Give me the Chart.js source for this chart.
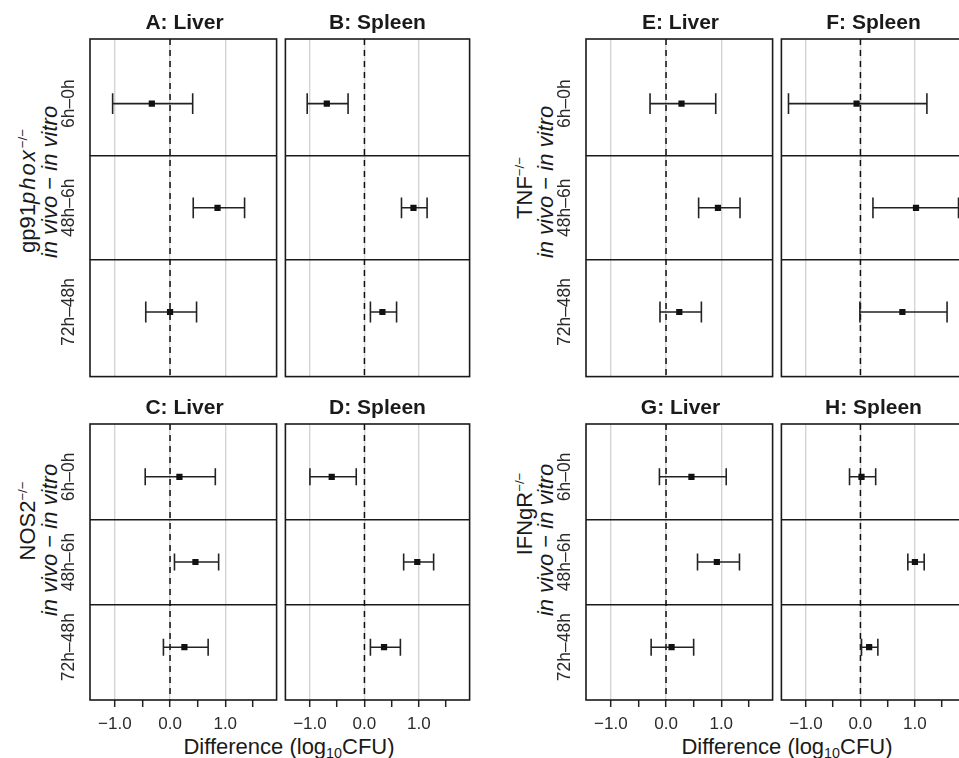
<!DOCTYPE html>
<html>
<head>
<meta charset="utf-8">
<title>in vivo - in vitro differences</title>
<script src="https://cdn.jsdelivr.net/npm/chart.js@4.4.1/dist/chart.umd.min.js"></script>
<style>
  html, body { margin: 0; padding: 0; background: #fff; overflow: hidden; }
  #wrap { position: relative; width: 959px; height: 758px; overflow: hidden;
          font-family: "Liberation Sans", Arial, Helvetica, sans-serif; color: #1a1a1a; }
  #wrap canvas { position: absolute; }
  .ylab { position: absolute; white-space: nowrap; font-size: 22px; line-height: 1;
          transform: translate(-50%, -50%) rotate(-90deg); }
  .xlab { position: absolute; white-space: nowrap; font-size: 22px; line-height: 1;
          transform: translate(-50%, -50%); }
  sup { position: relative; top: -0.6em; font-size: 60%; vertical-align: baseline; }
  sub { position: relative; top: 0.3em; font-size: 65%; vertical-align: baseline; }
</style>
</head>
<body>
<div id="wrap">
  <div class="ylab" style="left:28px; top:191px;">gp91<i style="letter-spacing:2px">phox</i><sup>&minus;/&minus;</sup></div>
  <div class="ylab" style="left:50px; top:182px;"><i>in vivo</i> &minus; <i>in vitro</i></div>
  <div class="ylab" style="left:525px; top:188px;">TNF<sup>&minus;/&minus;</sup></div>
  <div class="ylab" style="left:546px; top:182px;"><i>in vivo</i> &minus; <i>in vitro</i></div>
  <div class="ylab" style="left:28px; top:521px;">NOS2<sup>&minus;/&minus;</sup></div>
  <div class="ylab" style="left:50px; top:540px;"><i>in vivo</i> &minus; <i>in vitro</i></div>
  <div class="ylab" style="left:525px; top:514px;">IFNgR<sup>&minus;/&minus;</sup></div>
  <div class="ylab" style="left:546px; top:540px;"><i>in vivo</i> &minus; <i>in vitro</i></div>
  <div class="xlab" style="left:289px; top:747px;">Difference (log<sub>10</sub>CFU)</div>
  <div class="xlab" style="left:787px; top:747px;">Difference (log<sub>10</sub>CFU)</div>
</div>
<script>
const FONT = '"Liberation Sans", Arial, Helvetica, sans-serif';

// rows and axis
const rowLabels = ['6h\u20130h', '48h\u20136h', '72h\u201348h'];
const xTicks = [-1, -0.5, 0, 0.5, 1, 1.5];
const xMin = -1.45, xMax = 1.93;
const yMin = 0.38, yMax = 3.62;
const capHalf = 0.1;

// gp91phox-/-
const gp91LiverEst = [-0.33, 0.86, 0.00];
const gp91LiverLo  = [-1.04, 0.42, -0.44];
const gp91LiverHi  = [0.41, 1.35, 0.48];
const gp91SpleenEst = [-0.69, 0.90, 0.33];
const gp91SpleenLo  = [-1.05, 0.68, 0.11];
const gp91SpleenHi  = [-0.30, 1.15, 0.59];

// NOS2-/-
const nos2LiverEst = [0.17, 0.46, 0.26];
const nos2LiverLo  = [-0.45, 0.08, -0.12];
const nos2LiverHi  = [0.82, 0.88, 0.69];
const nos2SpleenEst = [-0.60, 0.97, 0.36];
const nos2SpleenLo  = [-1.00, 0.72, 0.11];
const nos2SpleenHi  = [-0.15, 1.27, 0.66];

// TNF-/-
const tnfLiverEst = [0.28, 0.94, 0.24];
const tnfLiverLo  = [-0.29, 0.59, -0.11];
const tnfLiverHi  = [0.90, 1.34, 0.64];
const tnfSpleenEst = [-0.07, 1.02, 0.77];
const tnfSpleenLo  = [-1.32, 0.23, -0.01];
const tnfSpleenHi  = [1.22, 1.80, 1.59];

// IFNgR-/-
const ifngrLiverEst = [0.46, 0.92, 0.10];
const ifngrLiverLo  = [-0.12, 0.57, -0.27];
const ifngrLiverHi  = [1.09, 1.33, 0.50];
const ifngrSpleenEst = [0.02, 1.00, 0.16];
const ifngrSpleenLo  = [-0.20, 0.87, 0.02];
const ifngrSpleenHi  = [0.28, 1.17, 0.32];

// panel boxes (px) - layout only
const panels = [
  { title: 'A: Liver',  est: gp91LiverEst,  lo: gp91LiverLo,  hi: gp91LiverHi,  left: 90,  top: 39,  h: 340, rows: true,  axis: false },
  { title: 'B: Spleen', est: gp91SpleenEst, lo: gp91SpleenLo, hi: gp91SpleenHi, left: 283, top: 39,  h: 340, rows: false, axis: false },
  { title: 'C: Liver',  est: nos2LiverEst,  lo: nos2LiverLo,  hi: nos2LiverHi,  left: 90,  top: 424, h: 276, rows: true,  axis: true },
  { title: 'D: Spleen', est: nos2SpleenEst, lo: nos2SpleenLo, hi: nos2SpleenHi, left: 283, top: 424, h: 276, rows: false, axis: true },
  { title: 'E: Liver',  est: tnfLiverEst,   lo: tnfLiverLo,   hi: tnfLiverHi,   left: 586, top: 39,  h: 340, rows: true,  axis: false },
  { title: 'F: Spleen', est: tnfSpleenEst,  lo: tnfSpleenLo,  hi: tnfSpleenHi,  left: 779, top: 39,  h: 340, rows: false, axis: false },
  { title: 'G: Liver',  est: ifngrLiverEst, lo: ifngrLiverLo, hi: ifngrLiverHi, left: 586, top: 424, h: 276, rows: true,  axis: true },
  { title: 'H: Spleen', est: ifngrSpleenEst,lo: ifngrSpleenLo,hi: ifngrSpleenHi,left: 779, top: 424, h: 276, rows: false, axis: true }
];
const PANEL_W = 189;

// frame around each panel + the row labels on the left column
const panelFrame = {
  id: 'panelFrame',
  afterDraw(chart, args, opts) {
    const { ctx, chartArea: a, scales } = chart;
    ctx.save();
    ctx.strokeStyle = '#1a1a1a';
    ctx.lineWidth = 1.6;
    ctx.strokeRect(a.left, a.top, a.right - a.left, a.bottom - a.top);
    if (opts.rows) {
      ctx.fillStyle = '#2a2a2a';
      ctx.font = '17.5px ' + FONT;
      ctx.textAlign = 'center';
      ctx.textBaseline = 'middle';
      rowLabels.forEach((t, i) => {
        ctx.save();
        ctx.translate(a.left - 21, scales.y.getPixelForValue(i + 1));
        ctx.rotate(-Math.PI / 2);
        ctx.fillText(t, 0, 0);
        ctx.restore();
      });
    }
    ctx.restore();
  }
};

// one continuous path per row: lower cap, bar, upper cap
function errorBarPath(lo, hi, y) {
  return [
    { x: lo, y: y - capHalf }, { x: lo, y: y + capHalf }, { x: lo, y: y },
    { x: hi, y: y }, { x: hi, y: y - capHalf }, { x: hi, y: y + capHalf }
  ];
}

function buildPanel(p) {
  const padL = p.rows ? 32 : 2;
  const canvas = document.createElement('canvas');
  canvas.width = padL + PANEL_W + 2;
  canvas.height = 40 + p.h + (p.axis ? 58 : 2);
  canvas.style.left = (p.left - padL) + 'px';
  canvas.style.top = (p.top - 40) + 'px';
  document.getElementById('wrap').appendChild(canvas);

  const datasets = [{
    data: p.est.map((v, i) => ({ x: v, y: i + 1 })),
    pointStyle: 'rect',
    pointRadius: 4.4,
    pointBackgroundColor: '#111',
    pointBorderWidth: 0
  }];
  p.est.forEach((v, i) => {
    datasets.push({
      type: 'line',
      data: errorBarPath(p.lo[i], p.hi[i], i + 1),
      borderColor: '#222',
      borderWidth: 1.6,
      borderJoinStyle: 'bevel',
      pointRadius: 0,
      tension: 0
    });
  });
  datasets.push({
    type: 'line',
    data: [{ x: 0, y: yMin }, { x: 0, y: yMax }],
    borderColor: '#111',
    borderWidth: 1.5,
    borderDash: [6, 5],
    pointRadius: 0
  });

  new Chart(canvas, {
    type: 'scatter',
    data: { datasets: datasets },
    options: {
      responsive: false,
      animation: false,
      devicePixelRatio: 1,
      layout: { padding: { left: padL, right: 2, top: 0, bottom: p.axis ? 0 : 2 } },
      plugins: {
        legend: { display: false },
        tooltip: { enabled: false },
        title: {
          display: true,
          text: p.title,
          color: '#1a1a1a',
          font: { family: FONT, size: 21, weight: 'bold', lineHeight: 1.2 },
          padding: { top: 12, bottom: 2.8 }
        },
        panelFrame: { rows: p.rows }
      },
      scales: {
        x: {
          type: 'linear',
          min: xMin,
          max: xMax,
          afterBuildTicks: s => { s.ticks = xTicks.map(v => ({ value: v })); },
          afterFit: s => { s.height = p.axis ? 58 : 0; },
          border: { display: false },
          grid: {
            color: c => Number.isInteger(c.tick.value) ? '#d4d4d4' : 'rgba(0,0,0,0)',
            lineWidth: 1.4,
            drawTicks: p.axis,
            tickLength: 7,
            tickColor: '#222',
            tickWidth: 1.5
          },
          ticks: {
            display: p.axis,
            autoSkip: false,
            maxRotation: 0,
            padding: 7,
            color: '#2a2a2a',
            font: { family: FONT, size: 17 },
            callback: v => Number.isInteger(v) ? (v < 0 ? '\u2212' : '') + Math.abs(v).toFixed(1) : ''
          }
        },
        y: {
          type: 'linear',
          reverse: true,
          min: yMin,
          max: yMax,
          afterBuildTicks: s => { s.ticks = [{ value: 1.5 }, { value: 2.5 }]; },
          afterFit: s => { s.width = 0; },
          border: { display: false },
          grid: { color: '#1a1a1a', lineWidth: 1.5, drawTicks: false },
          ticks: { display: false }
        }
      }
    },
    plugins: [panelFrame]
  });
}

document.addEventListener('DOMContentLoaded', () => {
  panels.forEach(buildPanel);
});
</script>
</body>
</html>
